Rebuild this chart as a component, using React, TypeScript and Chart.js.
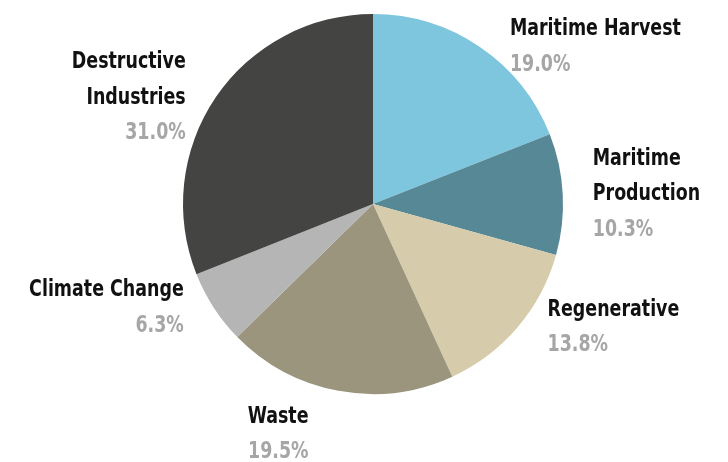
import React, { useEffect, useRef } from "react";
import { Chart, registerables } from "chart.js";

Chart.register(...registerables);

const categories = [
  "Maritime Harvest",
  "Maritime Production",
  "Regenerative",
  "Waste",
  "Climate Change",
  "Destructive Industries",
];
const shares = [19.0, 10.3, 13.8, 19.5, 6.3, 31.0];
const labelLines = [
  ["Maritime Harvest"],
  ["Maritime", "Production"],
  ["Regenerative"],
  ["Waste"],
  ["Climate Change"],
  ["Destructive", "Industries"],
];
const sliceColors = ["#7EC6DD", "#568895", "#D6CBAA", "#9B957E", "#B5B5B5", "#444442"];

const FONT = "bold 23px 'DejaVu Sans Condensed', 'DejaVu Sans', sans-serif";
const LH = 35.5;

function drawText(ctx: CanvasRenderingContext2D, text: string, x: number, y: number, align: "left" | "right", color: string, sx: number) {
  ctx.save();
  ctx.font = FONT;
  ctx.fillStyle = color;
  ctx.textBaseline = "alphabetic";
  const w = ctx.measureText(text).width * sx;
  const left = align === "left" ? x : x - w;
  ctx.translate(left, y);
  ctx.scale(sx, 1);
  ctx.textAlign = "left";
  ctx.fillText(text, 0, 0);
  ctx.restore();
}

const outsideLabels = {
  id: "outsideLabels",
  afterDatasetsDraw(chart: any) {
    const ctx = chart.ctx as CanvasRenderingContext2D;
    ctx.save();
    ctx.font = FONT;
    const sx = 171 / ctx.measureText("Maritime Harvest").width;
    ctx.restore();
    const meta = chart.getDatasetMeta(0);
    meta.data.forEach((arc: any, i: number) => {
      const { x, y, startAngle, endAngle, outerRadius } = arc.getProps(
        ["x", "y", "startAngle", "endAngle", "outerRadius"],
        true
      );
      const mid = (startAngle + endAngle) / 2;
      const c = Math.cos(mid);
      const s = Math.sin(mid);
      const align: "left" | "right" = c >= 0 ? "left" : "right";
      const ax = x + outerRadius * c + (c >= 0 ? 30 : -30);
      const ay = y + outerRadius * s;
      const lines = [...labelLines[i], shares[i].toFixed(1) + "%"];
      const n = lines.length;
      let firstBase: number;
      if (Math.abs(s) > 0.9) {
        firstBase = ay + 32;
      } else {
        const top = ay - 2 - (n * LH) / 2;
        firstBase = top + 26;
      }
      lines.forEach((t, k) => {
        const isPct = k === n - 1;
        drawText(ctx, t, ax, firstBase + k * LH, align, isPct ? "#A6A6A6" : "#111111", sx);
      });
    });
  },
};

export default function App() {
  const ref = useRef<HTMLCanvasElement | null>(null);
  useEffect(() => {
    document.body.style.margin = "0";
    const el = ref.current;
    if (!el) return;
    const chart = new Chart(el, {
      type: "pie",
      data: {
        labels: categories,
        datasets: [
          {
            data: shares,
            backgroundColor: sliceColors,
            borderWidth: 0,
          },
        ],
      },
      options: {
        animation: false,
        responsive: false,
        maintainAspectRatio: false,
        layout: { padding: { left: 183, right: 165, top: 14, bottom: 68 } },
        plugins: {
          legend: { display: false },
          tooltip: { enabled: false },
        },
      },
      plugins: [outsideLabels],
    });
    return () => chart.destroy();
  }, []);
  return (
    <div style={{ width: 728, height: 462, background: "#fff" }}>
      <canvas ref={ref} width={728} height={462} style={{ width: 728, height: 462, display: "block" }} />
    </div>
  );
}
